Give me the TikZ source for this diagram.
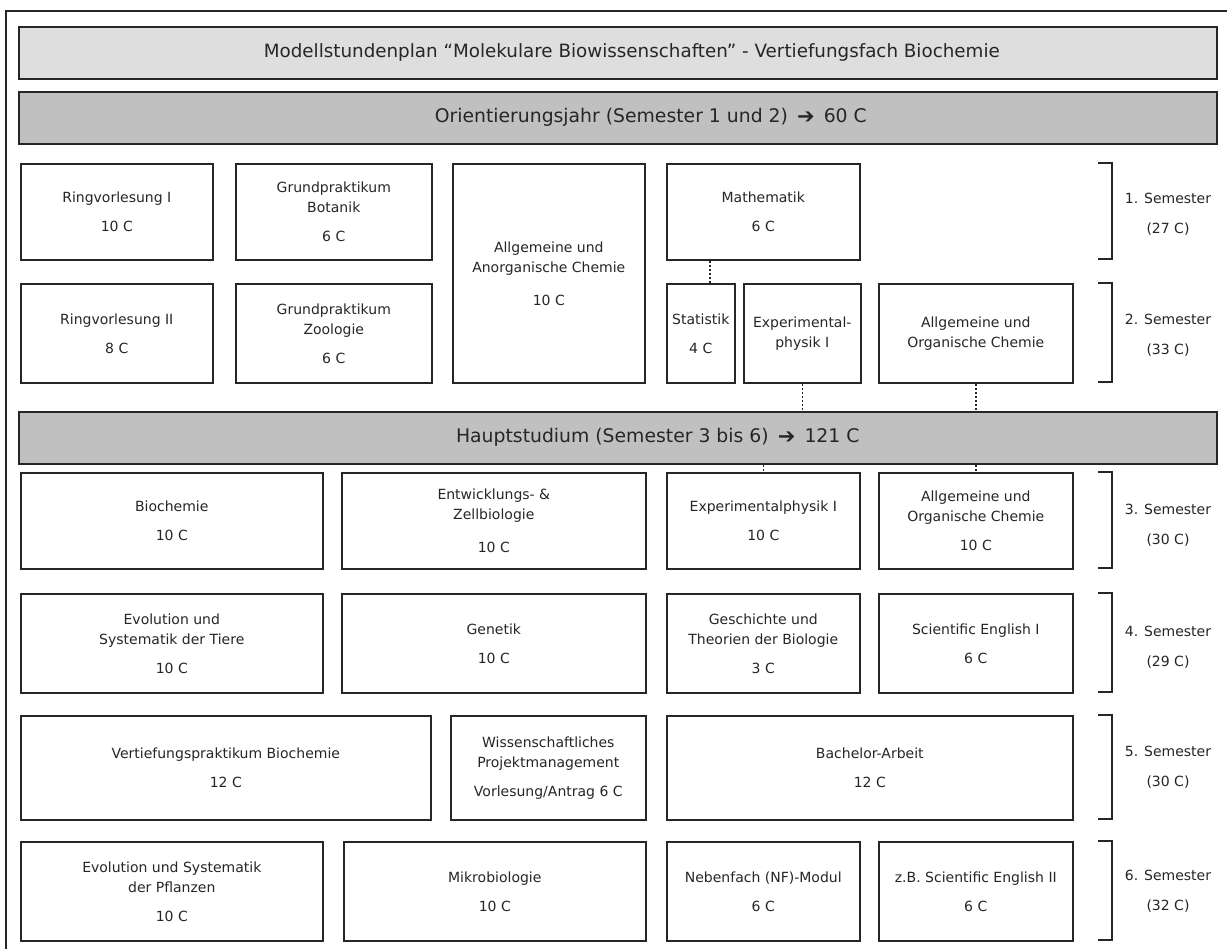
\documentclass[tikz,border=0pt]{standalone}
\usepackage{fontspec}
\setmainfont{DejaVu Sans}
\newfontfamily\symfont{DejaVu Sans}
\definecolor{ink}{HTML}{262626}
\definecolor{barlight}{HTML}{DEDEDE}
\definecolor{bardark}{HTML}{C0C0C0}
\tikzset{
  modbox/.style={draw=ink, line width=1.6pt, fill=white, inner sep=0pt, anchor=north west, align=center, text=ink, font=\fontsize{14}{20}\selectfont},
  headbar/.style={draw=ink, line width=1.6pt, inner sep=0pt, anchor=north west},
  headtext/.style={text=ink, inner sep=0pt},
  dotline/.style={draw=ink, line width=1.5pt, dash pattern=on 2pt off 2pt},
  brack/.style={draw=ink, line width=1.6pt},
  semlabel/.style={text=ink, align=center, font=\fontsize{14}{30}\selectfont},
}
\newcommand{\modbox}[6]{\node[modbox, minimum width={#4-#2}, minimum height={#5-#3}] (#1) at (#2,#3) {#6};}
\newcommand{\brk}[2]{\draw[brack] (1098,#1) -- (1112,#1) -- (1112,#2) -- (1098,#2);}
\newcommand{\bigarrow}{\,{\symfont\fontsize{21}{20}\selectfont\raisebox{-0.5pt}{➔}}\,}
\begin{document}
\begin{tikzpicture}[x=1pt,y=-1pt]
\useasboundingbox (0,0) rectangle (1227,949);
\fill[white] (0,0) rectangle (1227,949);
\draw[ink, line width=1.2pt] (6,960) -- (6,11) -- (1240,11);
% header bars
\node[headbar, fill=barlight, minimum width=1198, minimum height=52] (title) at (18,26) {};
\node[headtext, font=\fontsize{18.3}{20}\selectfont] (titletext) at ([xshift=14pt]title.center) {Modellstundenplan “Molekulare Biowissenschaften” - Vertiefungsfach Biochemie};
\node[headbar, fill=bardark, minimum width=1198, minimum height=52] (orient) at (18,91) {};
\node[headtext, font=\fontsize{18.8}{20}\selectfont] (orienttext) at ([xshift=33pt]orient.center) {Orientierungsjahr (Semester 1 und 2) \bigarrow{} 60 C};
\node[headbar, fill=bardark, minimum width=1198, minimum height=52] (haupt) at (18,411) {};
\node[headtext, font=\fontsize{18.8}{20}\selectfont] (haupttext) at ([xshift=40pt]haupt.center) {Hauptstudium (Semester 3 bis 6) \bigarrow{} 121 C};
% semester 1
\modbox{ringI}{20}{163}{212}{259}{Ringvorlesung I\\[9pt]10 C}
\modbox{gpbot}{235}{163}{431}{259}{Grundpraktikum\\Botanik\\[9pt]6 C}
\modbox{aac}{452}{163}{644}{382}{Allgemeine und\\Anorganische Chemie\\[13pt]10 C}
\modbox{math}{666}{163}{859}{259}{Mathematik\\[9pt]6 C}
% semester 2
\modbox{ringII}{20}{283}{212}{382}{Ringvorlesung II\\[9pt]8 C}
\modbox{gpzoo}{235}{283}{431}{382}{Grundpraktikum\\Zoologie\\[9pt]6 C}
\modbox{stat}{666}{283}{734}{382}{Statistik\\[9pt]4 C}
\modbox{ephysA}{743}{283}{860}{382}{Experimental-\\physik I}
\modbox{aocA}{878}{283}{1072}{382}{Allgemeine und\\Organische Chemie}
% semester 3
\modbox{bioch}{20}{472}{322}{568}{Biochemie\\[9pt]10 C}
\modbox{entw}{341}{472}{645}{568}{Entwicklungs- \&\\Zellbiologie\\[13pt]10 C}
\modbox{ephysB}{666}{472}{859}{568}{Experimentalphysik I\\[9pt]10 C}
\modbox{aocB}{878}{472}{1072}{568}{Allgemeine und\\Organische Chemie\\[9pt]10 C}
% semester 4
\modbox{evotier}{20}{593}{322}{692}{Evolution und\\Systematik der Tiere\\[9pt]10 C}
\modbox{genetik}{341}{593}{645}{692}{Genetik\\[9pt]10 C}
\modbox{gesch}{666}{593}{859}{692}{Geschichte und\\Theorien der Biologie\\[9pt]3 C}
\modbox{sciI}{878}{593}{1072}{692}{Scientific English I\\[9pt]6 C}
% semester 5
\modbox{vert}{20}{715}{430}{819}{Vertiefungspraktikum Biochemie\\[9pt]12 C}
\modbox{wpm}{450}{715}{645}{819}{Wissenschaftliches\\Projektmanagement\\[9pt]Vorlesung/Antrag 6 C}
\modbox{bach}{666}{715}{1072}{819}{Bachelor-Arbeit\\[9pt]12 C}
% semester 6
\modbox{evopfl}{20}{841}{322}{940}{Evolution und Systematik\\der Pflanzen\\[9pt]10 C}
\modbox{mikro}{343}{841}{645}{940}{Mikrobiologie\\[9pt]10 C}
\modbox{nf}{666}{841}{859}{940}{Nebenfach (NF)-Modul\\[9pt]6 C}
\modbox{sciII}{878}{841}{1072}{940}{z.B. Scientific English II\\[9pt]6 C}
% dotted connectors
\draw[dotline] ([xshift=9pt]stat.north |- math.south) -- ([xshift=9pt]stat.north);
\draw[dotline] (ephysA.south) -- (ephysA.south |- haupt.north);
\draw[dotline] (ephysB.north |- haupt.south) -- (ephysB.north);
\draw[dotline] (aocA.south) -- (aocA.south |- haupt.north);
\draw[dotline] (aocB.north |- haupt.south) -- (aocB.north);
% brackets and semester labels
\brk{163}{259}
\brk{283}{382}
\brk{472}{568}
\brk{593}{692}
\brk{715}{819}
\brk{841}{940}
\node[semlabel] (s1) at (1168,214) {1. Semester\\(27 C)};
\node[semlabel] (s2) at (1168,335) {2. Semester\\(33 C)};
\node[semlabel] (s3) at (1168,525) {3. Semester\\(30 C)};
\node[semlabel] (s4) at (1168,647) {4. Semester\\(29 C)};
\node[semlabel] (s5) at (1168,767) {5. Semester\\(30 C)};
\node[semlabel] (s6) at (1168,891) {6. Semester\\(32 C)};
\end{tikzpicture}
\end{document}
